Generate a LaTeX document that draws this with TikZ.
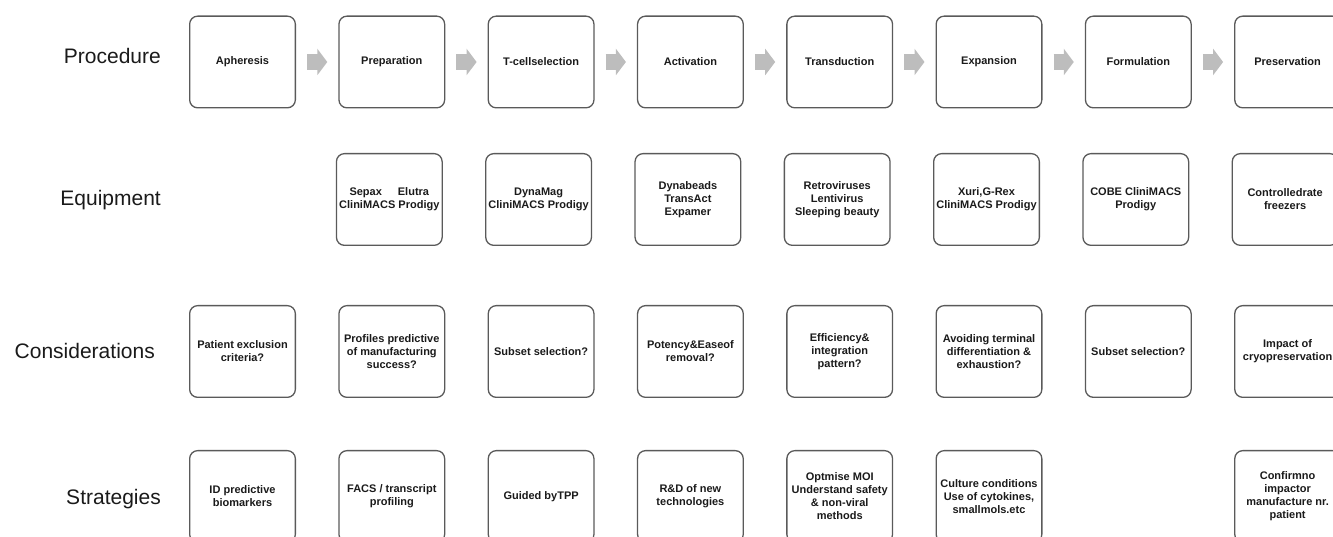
\documentclass[tikz,border=0pt]{standalone}
\usepackage{fontspec}
\setmainfont{Liberation Sans}
\usetikzlibrary{arrows.meta}
\definecolor{boxgray}{HTML}{5A5A5A}
\definecolor{arrowgray}{HTML}{BDBDBD}
\definecolor{textblack}{HTML}{1A1A1A}
\begin{document}
\begin{tikzpicture}[x=1pt,y=1pt,
  box/.style={draw=boxgray, line width=1.3pt, rounded corners=8pt,
    minimum width=105.7pt, minimum height=91.7pt, inner sep=0pt,
    align=center, font=\fontsize{11}{13}\selectfont\bfseries, text=textblack},
  rowlabel/.style={anchor=base east, inner sep=0pt, font=\fontsize{21}{24}\selectfont, text=textblack},
  blockarrow/.style={draw=arrowgray, line width=16pt, shorten <=11pt, shorten >=11pt,
    -{Triangle[width=26pt,length=10pt]}}]
\useasboundingbox (0,0) rectangle (1333,537);
% row labels
\node[rowlabel] (lp) at (161,473.7) {Procedure};
\node[rowlabel] (le) at (161,331) {Equipment};
\node[rowlabel] (lc) at (155,178) {Considerations};
\node[rowlabel] (ls) at (161,32.7) {Strategies};
% procedure
\node[box] (p1) at (242.5,475) {Apheresis};
\node[box] (p2) at (391.8,475) {Preparation};
\node[box] (p3) at (541.1,475) {T-cellselection};
\node[box] (p4) at (690.4,475) {Activation};
\node[box] (p5) at (839.7,475) {Transduction};
\node[box] (p6) at (989.0,475) {Expansion};
\node[box] (p7) at (1138.3,475) {Formulation};
\node[box] (p8) at (1287.6,475) {Preservation};
\foreach \a/\b in {p1/p2,p2/p3,p3/p4,p4/p5,p5/p6,p6/p7,p7/p8}
  \draw[blockarrow] (\a.east) -- (\b.west);
% equipment
\node[box] (e2) at (389.3,337.5) {Sepax\hspace{16pt}Elutra\\CliniMACS Prodigy};
\node[box] (e3) at (538.6,337.5) {DynaMag\\CliniMACS Prodigy};
\node[box] (e4) at (687.9,337.5) {Dynabeads\\TransAct\\Expamer};
\node[box] (e5) at (837.2,337.5) {Retroviruses\\Lentivirus\\Sleeping beauty};
\node[box] (e6) at (986.5,337.5) {Xuri,G-Rex\\CliniMACS Prodigy};
\node[box] (e7) at (1135.8,337.5) {COBE CliniMACS\\Prodigy};
\node[box] (e8) at (1285.1,337.5) {Controlledrate\\freezers};
% considerations
\node[box] (c1) at (242.5,185.5) {Patient exclusion\\criteria?};
\node[box] (c2) at (391.8,185.5) {Profiles predictive\\of manufacturing\\success?};
\node[box] (c3) at (541.1,185.5) {Subset selection?};
\node[box] (c4) at (690.4,185.5) {Potency\&Easeof\\removal?};
\node[box] (c5) at (839.7,185.5) {Efficiency\&\\integration\\pattern?};
\node[box] (c6) at (989.0,185.5) {Avoiding terminal\\differentiation \&\\exhaustion?};
\node[box] (c7) at (1138.3,185.5) {Subset selection?};
\node[box] (c8) at (1287.6,185.5) {Impact of\\cryopreservation};
% strategies
\node[box] (s1) at (242.5,40.5) {ID predictive\\biomarkers};
\node[box] (s2) at (391.8,40.5) {FACS / transcript\\profiling};
\node[box] (s3) at (541.1,40.5) {Guided byTPP};
\node[box] (s4) at (690.4,40.5) {R\&D of new\\technologies};
\node[box] (s5) at (839.7,40.5) {Optmise MOI\\Understand safety\\\& non-viral\\methods};
\node[box] (s6) at (989.0,40.5) {Culture conditions\\Use of cytokines,\\smallmols.etc};
\node[box] (s8) at (1287.6,40.5) {Confirmno\\impactor\\manufacture nr.\\patient};
\end{tikzpicture}
\end{document}
